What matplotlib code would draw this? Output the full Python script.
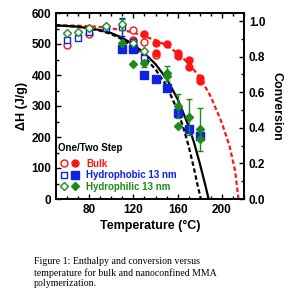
import matplotlib
matplotlib.use("Agg")
import matplotlib.pyplot as plt
from matplotlib.legend_handler import HandlerTuple
import numpy as np

plt.rcParams['font.family'] = ['Liberation Sans', 'DejaVu Sans']
plt.rcParams['font.weight'] = 'bold'

RED = '#ff1414'
BLUE = '#1020e6'
GREEN = '#1e8a1e'

# ---- data (ΔH in J/g vs temperature in °C) ----
bulk_open_T = [60, 80, 120, 130, 140]
bulk_open_H = [497, 533, 546, 507, 463]
bulk_fill_T = [120, 130, 140, 140, 150, 160, 160, 170, 170, 180, 180]
bulk_fill_H = [512, 532, 504, 472, 500, 470, 461, 450, 427, 389, 380]

phob_open_T = [60, 70, 80, 95, 110, 120, 130]
phob_open_H = [512, 520, 540, 552, 555, 505, 456]
phob_open_err = [0, 0, 0, 0, 28, 0, 0]
phob_fill_T = [110, 120, 130, 140, 150, 160, 170, 180]
phob_fill_H = [485, 483, 400, 388, 357, 276, 225, 203]

phil_open_T = [60, 70, 80, 95, 110, 120, 130]
phil_open_H = [537, 538, 552, 558, 563, 502, 477]
phil_open_err = [0, 0, 0, 0, 18, 0, 0]
phil_fill_T = [110, 120, 130, 150, 150, 160, 160, 170, 180, 180]
phil_fill_H = [502, 437, 438, 405, 397, 300, 237, 266, 225, 194]
phil_fill_err = [0, 0, 12, 25, 0, 38, 0, 58, 70, 0]

# fit curves, points
bulk_fit_T = [50, 70, 90, 110, 120, 130, 140, 150, 160, 170, 180, 190, 200, 207, 212, 215]
bulk_fit_H = [560, 559, 555, 545, 537, 525, 512, 496, 470, 437, 393, 330, 245, 170, 90, 0]
two_fit_T = [50, 70, 90, 100, 110, 120, 130, 140, 150, 160, 170, 175, 180, 185, 188]
two_fit_H = [560, 556, 545, 535, 520, 498, 470, 435, 388, 322, 235, 180, 115, 45, 0]
one_fit_T = [50, 70, 90, 100, 110, 120, 130, 140, 150, 160, 165, 170, 175, 178, 181]
one_fit_H = [560, 556, 543, 532, 515, 490, 458, 418, 365, 285, 232, 170, 95, 45, 0]

H_MAX = 574.0  # ΔH equivalent to conversion 1.0

fig = plt.figure(figsize=(2.90, 3.04), dpi=100)
ax = fig.add_axes([56/290, 1 - 199/304, (244-56)/290, (199-13)/304])

ax.plot(bulk_fit_T, bulk_fit_H, color=RED, ls=(0, (2, 1.2)), lw=1.6, zorder=2)
ax.plot(two_fit_T, two_fit_H, color='black', ls='-', lw=1.6, zorder=2)
ax.plot(one_fit_T, one_fit_H, color='black', ls=(0, (2, 1.2)), lw=1.6, zorder=2)

ms = 5
ebkw = dict(elinewidth=1.0, capsize=2, capthick=1.0)
h_bo, = ax.plot(bulk_open_T, bulk_open_H, 'o', mfc='white', mec=RED, mew=1.0, ms=ms, zorder=3, ls='none')
h_bf, = ax.plot(bulk_fill_T, bulk_fill_H, 'o', mfc=RED, mec=RED, ms=ms, zorder=3, ls='none')
ax.errorbar(phob_open_T, phob_open_H, yerr=phob_open_err, fmt='none', ecolor=BLUE, zorder=3, **ebkw)
h_po, = ax.plot(phob_open_T, phob_open_H, 's', mfc='white', mec=BLUE, mew=1.0, ms=ms, zorder=4, ls='none')
h_pf, = ax.plot(phob_fill_T, phob_fill_H, 's', mfc=BLUE, mec=BLUE, ms=ms + 0.5, zorder=4, ls='none')
ax.errorbar(phil_open_T, phil_open_H, yerr=phil_open_err, fmt='none', ecolor=GREEN, zorder=4, **ebkw)
ax.errorbar(phil_fill_T, phil_fill_H, yerr=phil_fill_err, fmt='none', ecolor=GREEN, zorder=4, **ebkw)
h_lo, = ax.plot(phil_open_T, phil_open_H, 'D', mfc='white', mec=GREEN, mew=1.0, ms=ms - 0.5, zorder=5, ls='none')
h_lf, = ax.plot(phil_fill_T, phil_fill_H, 'D', mfc=GREEN, mec=GREEN, ms=ms - 0.5, zorder=5, ls='none')

ax.set_xlim(50, 220)
ax.set_ylim(0, 600)
ax.set_xticks([80, 120, 160, 200])
ax.set_xticks(np.arange(60, 221, 10), minor=True)
ax.set_yticks([0, 100, 200, 300, 400, 500, 600])
ax.set_yticks(np.arange(0, 601, 50), minor=True)
ax.tick_params(axis='both', which='both', direction='in', top=True, right=False,
               labelsize=8.5, width=1.0)
ax.tick_params(which='major', length=3.5)
ax.tick_params(which='minor', length=2)
for s in ax.spines.values():
    s.set_linewidth(1.2)
ax.set_xlabel('Temperature (°C)', fontsize=9, fontweight='bold', labelpad=3)
ax.set_ylabel('ΔH (J/g)', fontsize=9, fontweight='bold', labelpad=2)

ax2 = ax.twinx()
ax2.set_ylim(0, 600 / H_MAX)
ax2.set_yticks([0.0, 0.2, 0.4, 0.6, 0.8, 1.0])
ax2.set_yticks(np.arange(0, 1.05, 0.1), minor=True)
ax2.set_yticklabels(['0.0', '0.2', '0.4', '0.6', '0.8', '1.0'])
ax2.tick_params(axis='y', which='both', direction='in', labelsize=8.5, width=1.0)
ax2.tick_params(which='major', length=3.5)
ax2.tick_params(which='minor', length=2)
ax2.set_ylabel('Conversion', fontsize=9, fontweight='bold', rotation=270, labelpad=12)
for s in ax2.spines.values():
    s.set_linewidth(1.2)

ax.text(0.012, 0.274, 'One/Two Step', transform=ax.transAxes, fontsize=7,
        fontweight='bold', va='center', ha='left')
leg = ax.legend([(h_bo, h_bf), (h_po, h_pf), (h_lo, h_lf)],
                ['Bulk', 'Hydrophobic 13 nm', 'Hydrophilic 13 nm'],
                handler_map={tuple: HandlerTuple(ndivide=None, pad=0.5)},
                loc='lower left', bbox_to_anchor=(0.025, 0.04),
                frameon=False, fontsize=7, handlelength=1.8,
                handletextpad=0.8, labelspacing=0.15, borderaxespad=0.0,
                borderpad=0.0)
for t, c in zip(leg.get_texts(), [RED, BLUE, GREEN]):
    t.set_color(c)
    t.set_fontweight('bold')

fig.text(34/290, 1 - 257/304,
         'Figure 1: Enthalpy and conversion versus\n'
         'temperature for bulk and nanoconfined MMA\n'
         'polymerization.',
         family='Liberation Serif', fontweight='normal', fontsize=7.1,
         va='top', ha='left', linespacing=1.25)

fig.savefig('out.png', dpi=100)
